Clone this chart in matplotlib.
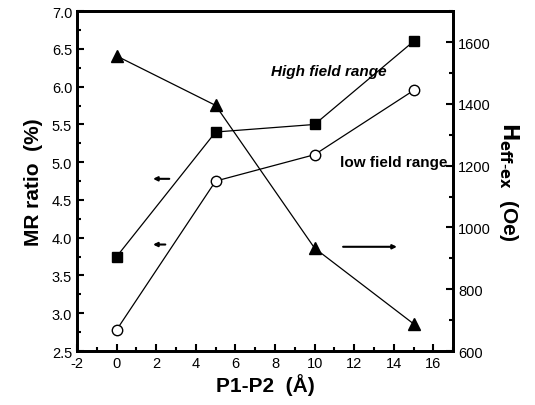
import matplotlib.pyplot as plt
from matplotlib.ticker import MultipleLocator

plt.rcParams['font.family'] = ['Liberation Sans', 'DejaVu Sans']
plt.rcParams['axes.unicode_minus'] = False

# P1-P2 spacing (A)
spacing = [0, 5, 10, 15]
# MR ratio (%)
mr_high = [3.75, 5.40, 5.50, 6.60]
mr_low = [2.78, 4.75, 5.10, 5.95]
# H_eff-ex (Oe)
h_eff = [1555, 1395, 933, 688]

fig = plt.figure(figsize=(5.35, 4.06), dpi=100)
ax = fig.add_axes([0.144, 0.133, 0.703, 0.837])
ax2 = ax.twinx()

ax.plot(spacing, mr_high, color='black', lw=0.9, marker='s', ms=7, mfc='black')
ax.plot(spacing, mr_low, color='black', lw=0.9, marker='o', ms=7.5, mfc='white', mew=1)
ax2.plot(spacing, h_eff, color='black', lw=0.9, marker='^', ms=9, mfc='black')

ax.set_xlim(-2, 17)
ax.set_ylim(2.5, 7.0)
ax2.set_ylim(600, 1700)

ax.xaxis.set_major_locator(MultipleLocator(2))
ax.xaxis.set_minor_locator(MultipleLocator(1))
ax.yaxis.set_major_locator(MultipleLocator(0.5))
ax.yaxis.set_minor_locator(MultipleLocator(0.25))
ax2.yaxis.set_minor_locator(MultipleLocator(100))
ax2.set_yticks([600, 800, 1000, 1200, 1400, 1600])

ax.tick_params(which='both', direction='in', width=1.5, labelsize=10.5, top=False)
ax.tick_params(which='major', length=5)
ax.tick_params(which='minor', length=3)
ax2.tick_params(which='both', direction='in', width=1.5, labelsize=10.5)
ax2.tick_params(which='major', length=5)
ax2.tick_params(which='minor', length=3)

for a in (ax, ax2):
    for s in a.spines.values():
        s.set_linewidth(2)

ax.set_xlabel('P1-P2  (Å)', fontsize=15, fontweight='bold', labelpad=2)
ax.set_ylabel('MR ratio  (%)', fontsize=15, fontweight='bold', labelpad=6)
ax2.set_ylabel(r'$\mathbf{H}_{\mathbf{eff\text{-}ex}}$  (Oe)', fontsize=15,
               fontweight='bold', rotation=270, labelpad=22)

ax.text(7.8, 6.15, 'High field range', fontsize=11, fontweight='bold', style='italic')
ax.text(11.3, 4.95, 'low field range', fontsize=11, fontweight='bold')

# arrows pointing to the axis each curve belongs to
ax.annotate('', xy=(1.7, 4.78), xytext=(2.8, 4.78),
            arrowprops=dict(arrowstyle='-|>', color='black', lw=1.5, mutation_scale=6))
ax.annotate('', xy=(1.7, 3.91), xytext=(2.6, 3.91),
            arrowprops=dict(arrowstyle='-|>', color='black', lw=1.5, mutation_scale=6))
ax.annotate('', xy=(14.3, 3.88), xytext=(11.3, 3.88),
            arrowprops=dict(arrowstyle='-|>', color='black', lw=1.5, mutation_scale=6))

fig.savefig('out.png', dpi=100)
